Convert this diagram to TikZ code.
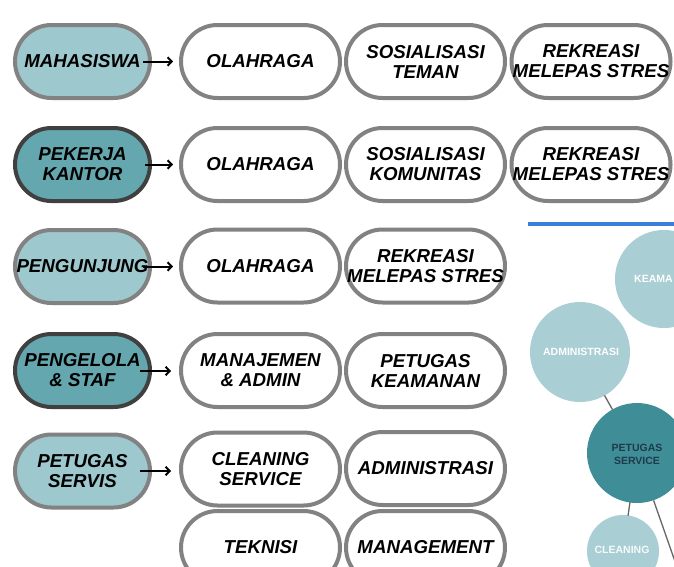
\documentclass[tikz,border=0pt]{standalone}
\usepackage{fontspec}
\setmainfont{Liberation Sans}
\usetikzlibrary{arrows.meta}
\definecolor{pillgray}{HTML}{828282}
\definecolor{edgedark}{HTML}{404040}
\definecolor{lightteal}{HTML}{9DC8CE}
\definecolor{darkteal}{HTML}{65A7AF}
\definecolor{circlelight}{HTML}{A9CED4}
\definecolor{circledark}{HTML}{3F8D97}
\definecolor{circletext}{HTML}{1F3B4A}
\definecolor{bluebar}{HTML}{3C7DD9}
\begin{document}
\begin{tikzpicture}[x=1pt,y=-1pt,
  lbl/.style={font=\fontsize{18.7}{20}\selectfont\bfseries\itshape, align=center, inner sep=0pt},
  pill/.style={lbl, draw=pillgray, line width=4pt, fill=white, rounded corners=36.5pt,
               minimum width=159pt, minimum height=73pt},
  who/.style={pill, minimum width=135pt, fill=lightteal},
  whodark/.style={who, fill=darkteal, draw=edgedark},
  link/.style={-{Straight Barb[length=4pt,width=8.5pt]}, line width=2pt, black},
  bubble/.style={circle, inner sep=0pt},
  bubbletext/.style={font=\fontsize{10.5}{13}\selectfont\bfseries, align=center, inner sep=0pt},
  joint/.style={draw=black!60, line width=1.3pt},
]
\clip (0,0) rectangle (674,566);
\fill[white] (0,0) rectangle (674,566);

% row 1
\node[who] (m1) at (82.5,61.5) {MAHASISWA};
\node[pill] (a1) at (260.5,61.5) {OLAHRAGA};
\node[pill] (b1) at (425.5,61.5) {SOSIALISASI\\TEMAN};
\node[pill] (c1) at (591,61.5) {REKREASI\\MELEPAS STRES};
% row 2
\node[whodark] (m2) at (82.5,164.5) {PEKERJA\\KANTOR};
\node[pill] (a2) at (260.5,164.5) {OLAHRAGA};
\node[pill] (b2) at (425.5,164.5) {SOSIALISASI\\KOMUNITAS};
\node[pill] (c2) at (591,164.5) {REKREASI\\MELEPAS STRES};
% row 3
\node[who] (m3) at (82.5,266.5) {PENGUNJUNG};
\node[pill] (a3) at (260.5,266) {OLAHRAGA};
\node[pill] (b3) at (425.5,266) {REKREASI\\MELEPAS STRES};
% row 4
\node[whodark] (m4) at (82.5,370.5) {PENGELOLA\\\& STAF};
\node[pill] (a4) at (260.5,370.5) {MANAJEMEN\\\& ADMIN};
\node[pill] (b4) at (425.5,370.5) {PETUGAS\\KEAMANAN};
% row 5
\node[who] (m5) at (82.5,471) {PETUGAS\\SERVIS};
\node[pill] (a5) at (260.5,469) {CLEANING\\SERVICE};
\node[pill] (b5) at (425.5,468.5) {ADMINISTRASI};
% row 6
\node[pill] (a6) at (260.5,547.5) {TEKNISI};
\node[pill] (b6) at (425.5,547.5) {MANAGEMENT};

% arrows
\draw[link] ([xshift=-9pt]m1.east) -- ([xshift=-6pt]a1.west);
\draw[link] ([xshift=-7pt]m2.east) -- ([xshift=-6pt]a2.west);
\draw[link] ([xshift=-9pt]m3.east) -- ([xshift=-6pt,yshift=-0.5pt]a3.west);
\draw[link] ([xshift=-12pt,yshift=-0.5pt]m4.east) -- ([xshift=-8pt,yshift=-0.5pt]a4.west);
\draw[link] ([xshift=-12pt]m5.east) -- ([xshift=-8pt,yshift=-2pt]a5.west);

% embedded picture on the right
\begin{scope}
\clip (528,222) rectangle (674,566);
\fill[white] (528,222) rectangle (674,566);
\coordinate (off) at (692,610);
\node[bubble, fill=circlelight, minimum size=98pt] (kea) at (664,279) {};
\node[bubble, fill=circlelight, minimum size=100pt] (adm) at (580,352) {};
\node[bubble, fill=circledark, minimum size=100pt] (ps) at (637,453) {};
\node[bubble, fill=circlelight, minimum size=72pt] (cln) at (623,551) {};
\node[bubbletext, text=white, anchor=west] (keat) at (634,279) {KEAMA};
\node[bubbletext, text=white] (admt) at (581,352) {ADMINISTRASI};
\node[bubbletext, text=circletext] (pst) at (637,454) {PETUGAS\\SERVICE};
\node[bubbletext, text=white!90!circlelight] (clnt) at (622,550) {CLEANING};
\fill[bluebar] (528,222) rectangle (674,225.5);
\path (adm.center) -- (ps.center) coordinate[pos=0.43] (j1a) coordinate[pos=0.57] (j1b);
\draw[joint] (j1a) -- (j1b);
\path (ps.center) -- (cln.center) coordinate[pos=0.5] (j2a) coordinate[pos=0.64] (j2b);
\draw[joint] (j2a) -- (j2b);
\draw[joint] (ps) -- (off);
\end{scope}
\end{tikzpicture}
\end{document}
